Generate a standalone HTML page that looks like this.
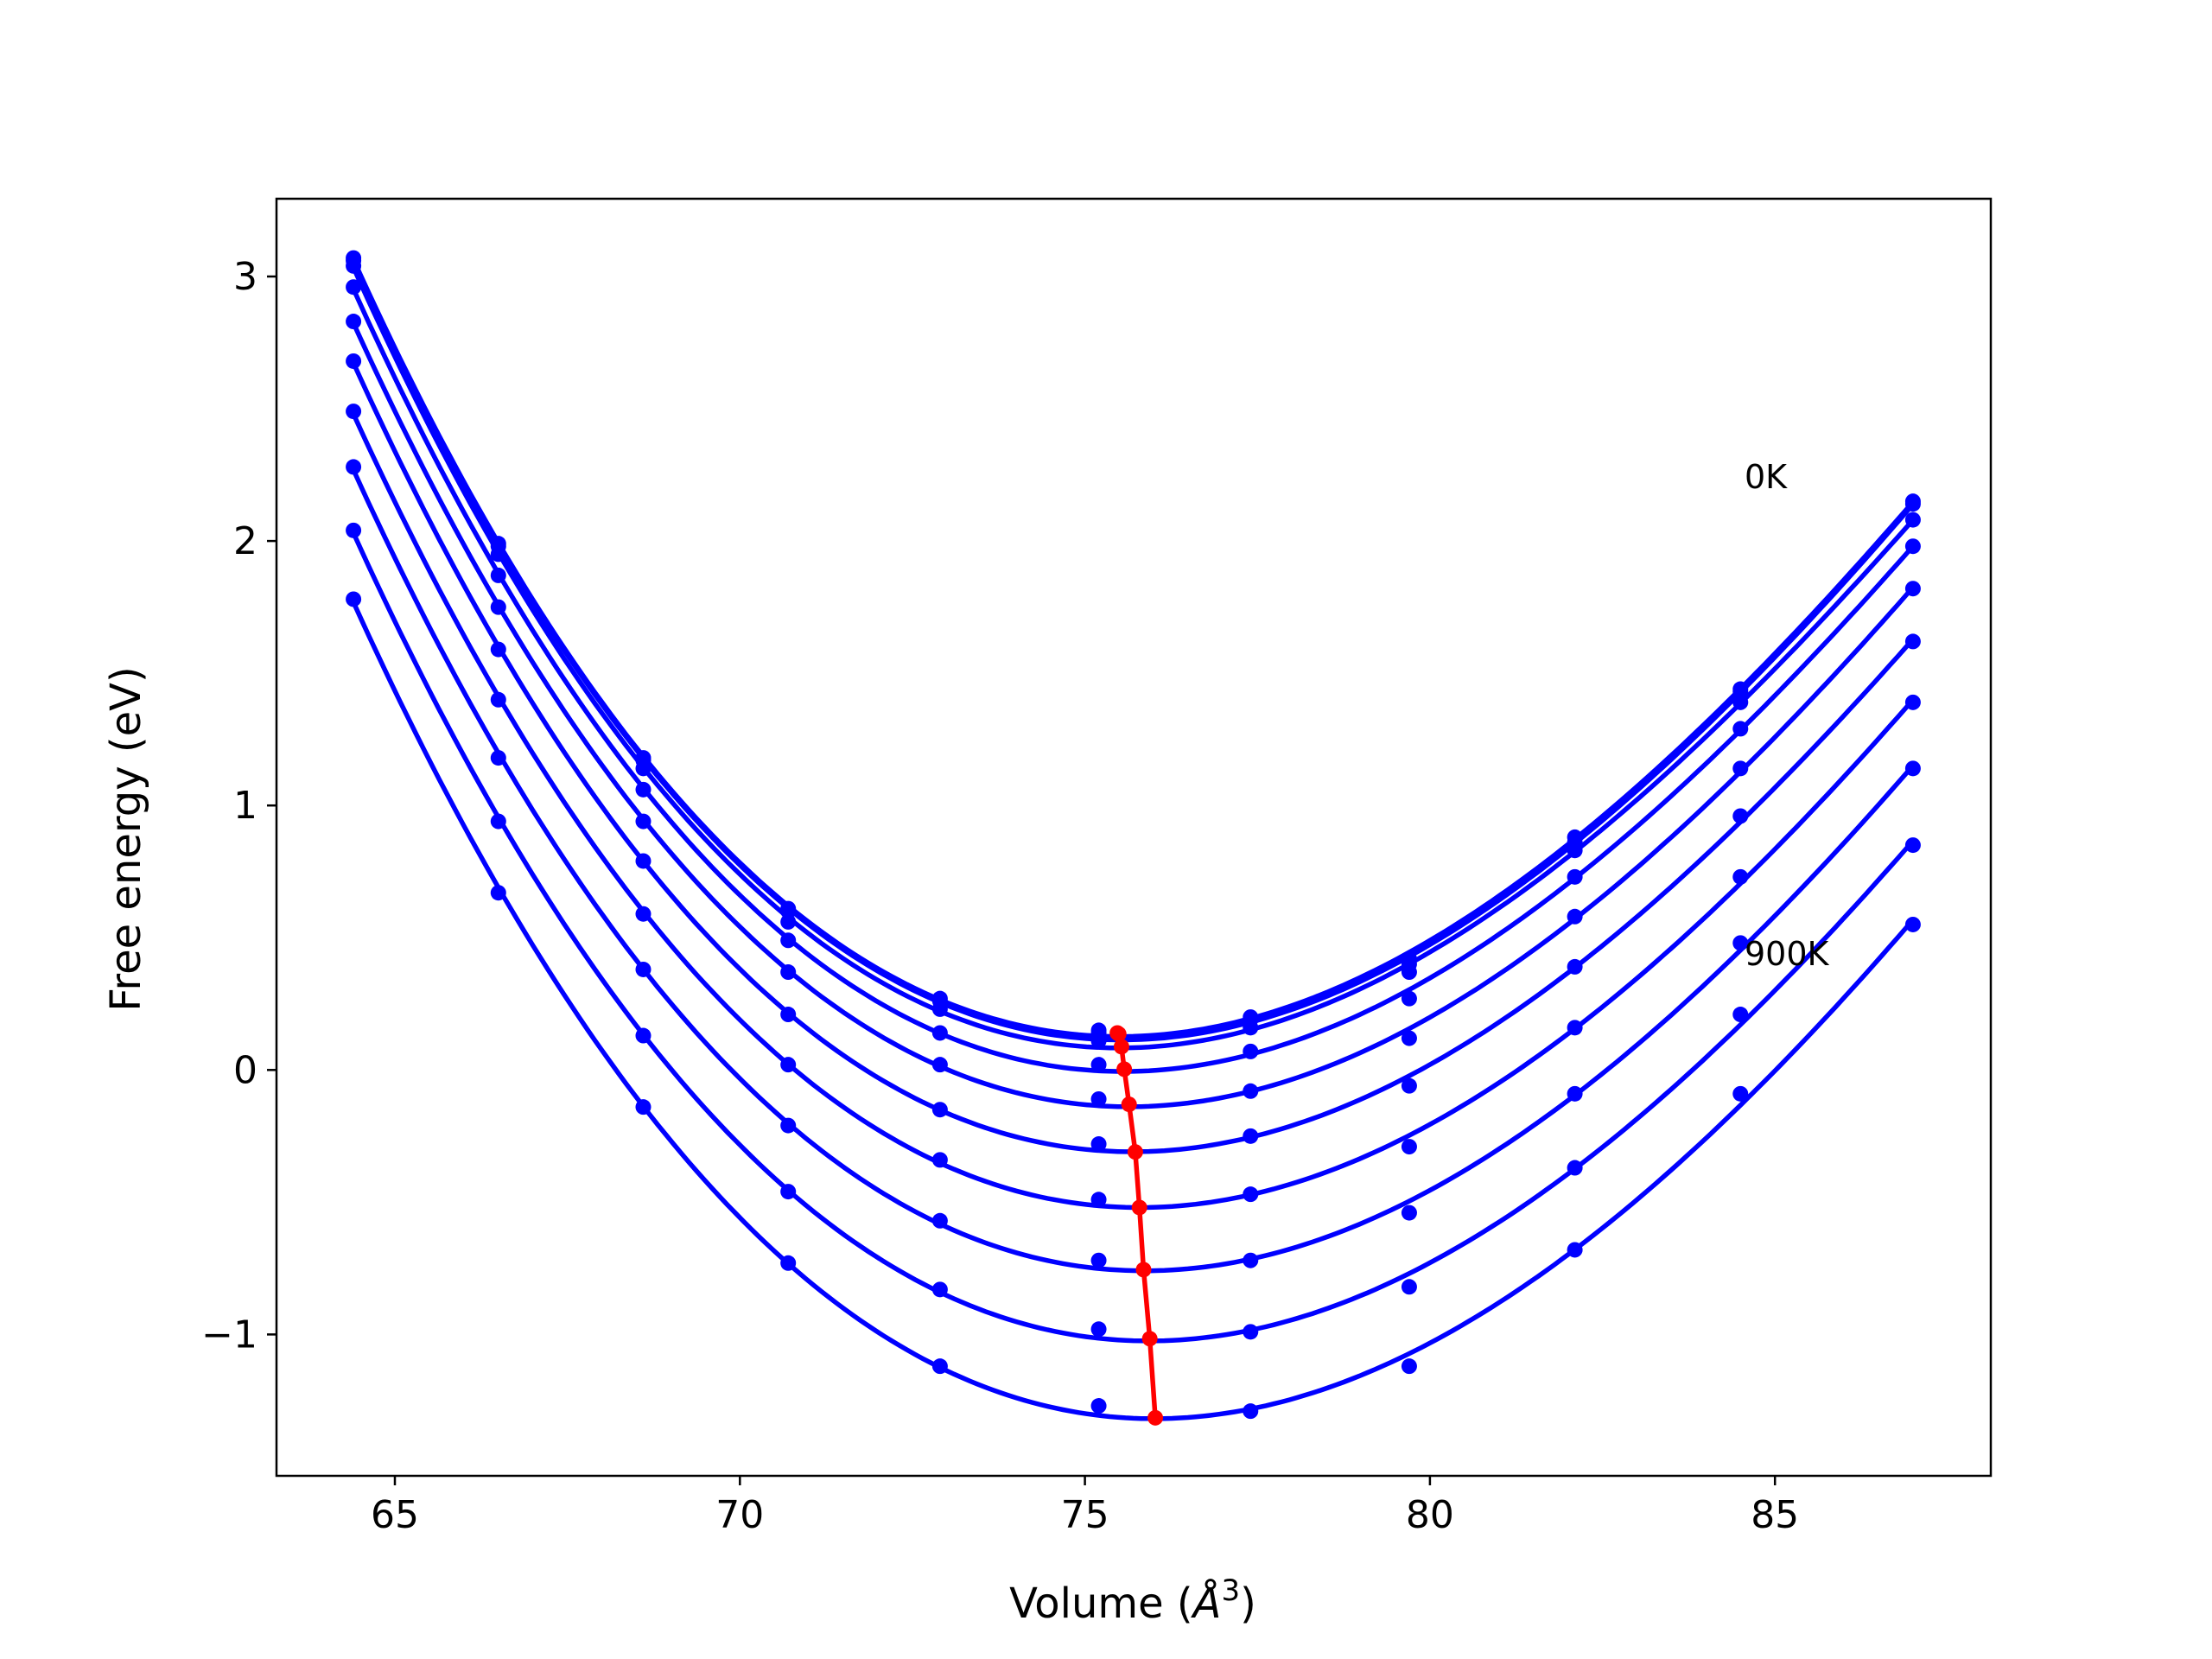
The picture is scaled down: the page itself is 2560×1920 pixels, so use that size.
<!DOCTYPE html>
<html><head><meta charset="utf-8"><style>
html,body{margin:0;padding:0;background:#fff}
svg{display:block;font-family:"DejaVu Sans","Liberation Sans",sans-serif}
</style></head><body>
<svg id="chart" width="2560" height="1920" viewBox="0 0 2560 1920">
<rect x="0" y="0" width="2560" height="1920" fill="#fff"/>
<g id="plot"></g>
</svg>
<script>
const volumes = [64.4, 66.5, 68.6, 70.7, 72.9, 75.2, 77.4, 79.7, 82.1, 84.5, 87.0];
const energies = [
 [3.07, 1.99, 1.18, 0.61, 0.27, 0.15, 0.20, 0.42, 0.88, 1.44, 2.15],
 [3.06, 1.98, 1.17, 0.60, 0.26, 0.14, 0.19, 0.40, 0.86, 1.43, 2.14],
 [3.04, 1.95, 1.14, 0.56, 0.23, 0.11, 0.16, 0.37, 0.83, 1.39, 2.08],
 [2.96, 1.87, 1.06, 0.49, 0.14, 0.02, 0.07, 0.27, 0.73, 1.29, 1.98],
 [2.83, 1.75, 0.94, 0.37, 0.02, -0.11, -0.08, 0.12, 0.58, 1.14, 1.82],
 [2.68, 1.59, 0.79, 0.21, -0.15, -0.28, -0.25, -0.06, 0.39, 0.96, 1.62],
 [2.49, 1.40, 0.59, 0.02, -0.34, -0.49, -0.47, -0.29, 0.16, 0.73, 1.39],
 [2.28, 1.18, 0.38, -0.21, -0.57, -0.72, -0.72, -0.54, -0.09, 0.48, 1.14],
 [2.04, 0.94, 0.13, -0.46, -0.83, -0.98, -0.99, -0.82, -0.37, 0.21, 0.85],
 [1.78, 0.67, -0.14, -0.73, -1.12, -1.27, -1.29, -1.12, -0.68, -0.09, 0.55]
];
const minVolumes = [75.47, 75.49, 75.53, 75.57, 75.64, 75.73, 75.79, 75.85, 75.94, 76.02];
const minEnergies = [0.14, 0.136, 0.088, 0.003, -0.13, -0.31, -0.52, -0.755, -1.016, -1.315];
const xTicks = [65, 70, 75, 80, 85];
const yTicks = [-1, 0, 1, 2, 3];
const yTickLabels = ["\u22121", "0", "1", "2", "3"];

const L=320,R=2304,T=230,B=1708;
function sx(v){return 457 + (v-65)*79.86;}
function sy(e){return 320 + (3-e)*306.1;}
const NS="http://www.w3.org/2000/svg";
const g=document.getElementById('plot');
function mk(tag,attrs,parent){const el=document.createElementNS(NS,tag);for(const k in attrs)el.setAttribute(k,attrs[k]);(parent||g).appendChild(el);return el;}

// cubic least-squares fit
function fit(xs,ys){
  const n=4, A=[],bv=[];
  for(let i=0;i<n;i++){A.push(new Array(n).fill(0));bv.push(0);}
  const c=75;
  xs.forEach((x,k)=>{const t=x-c;const p=[1,t,t*t,t*t*t];
    for(let i=0;i<n;i++){bv[i]+=p[i]*ys[k];for(let j=0;j<n;j++)A[i][j]+=p[i]*p[j];}});
  for(let i=0;i<n;i++){let m=i;for(let r=i+1;r<n;r++)if(Math.abs(A[r][i])>Math.abs(A[m][i]))m=r;
    [A[i],A[m]]=[A[m],A[i]];[bv[i],bv[m]]=[bv[m],bv[i]];
    for(let r=0;r<n;r++){if(r===i)continue;const f=A[r][i]/A[i][i];for(let j=i;j<n;j++)A[r][j]-=f*A[i][j];bv[r]-=f*bv[i];}}
  const co=bv.map((b,i)=>b/A[i][i]);
  return x=>{const t=x-c;return co[0]+co[1]*t+co[2]*t*t+co[3]*t*t*t;};
}

energies.forEach((row,ci)=>{
  const f=fit(volumes,row);
  const v0=volumes[0],v1=volumes[volumes.length-1];
  let d='';
  for(let i=0;i<=200;i++){const v=v0+(v1-v0)*i/200;d+=(i?'L':'M')+sx(v).toFixed(1)+','+sy(f(v)).toFixed(1);}
  const p=mk('path',{d:d,fill:'none',stroke:'#0000ff','stroke-width':5.5});
  
  
  row.forEach((e,k)=>{
    const c=mk('circle',{cx:sx(volumes[k]),cy:sy(e),r:9,fill:'#0000ff'});
    
    
  });
});

let dm='';
minVolumes.forEach((v,i)=>{dm+=(i?'L':'M')+sx(v)+','+sy(minEnergies[i]);});
const ml=mk('path',{d:dm,fill:'none',stroke:'#ff0000','stroke-width':5.5});


minVolumes.forEach((v,i)=>{
  const c=mk('circle',{cx:sx(v),cy:sy(minEnergies[i]),r:9,fill:'#ff0000'});
  
  
});

const fr=mk('rect',{x:L,y:T,width:R-L,height:B-T,fill:'none',stroke:'#000','stroke-width':2.5});



xTicks.forEach(t=>{
  const x=sx(t);
  const l=mk('line',{x1:x,y1:B,x2:x,y2:B+11,stroke:'#000','stroke-width':2.5});
  
  
  const tx=mk('text',{x:x,y:B+60,'font-size':44,'text-anchor':'middle',fill:'#000'});
  tx.textContent=t;
  
  
});
yTicks.forEach((t,i)=>{
  const y=sy(t);
  const l=mk('line',{x1:L-11,y1:y,x2:L,y2:y,stroke:'#000','stroke-width':2.5});
  
  
  const tx=mk('text',{x:L-22,y:y+15,'font-size':44,'text-anchor':'end',fill:'#000'});
  tx.textContent=yTickLabels[i];
  
  
});
</script>
<svg style="position:absolute;left:0;top:0" width="2560" height="1920">
<text x="1311" y="1872" font-size="48" text-anchor="middle" font-family="DejaVu Sans, Liberation Sans, sans-serif">Volume (<tspan font-style="italic">Å</tspan><tspan baseline-shift="super" font-size="34">3</tspan>)</text>
<text x="0" y="0" font-size="48" text-anchor="middle" font-family="DejaVu Sans, Liberation Sans, sans-serif" transform="translate(162,971) rotate(-90)">Free energy (eV)</text>
<text x="2019" y="565" font-size="38" font-family="DejaVu Sans, Liberation Sans, sans-serif">0K</text>
<text x="2019" y="1117" font-size="38" font-family="DejaVu Sans, Liberation Sans, sans-serif">900K</text>
</svg>
</body></html>
